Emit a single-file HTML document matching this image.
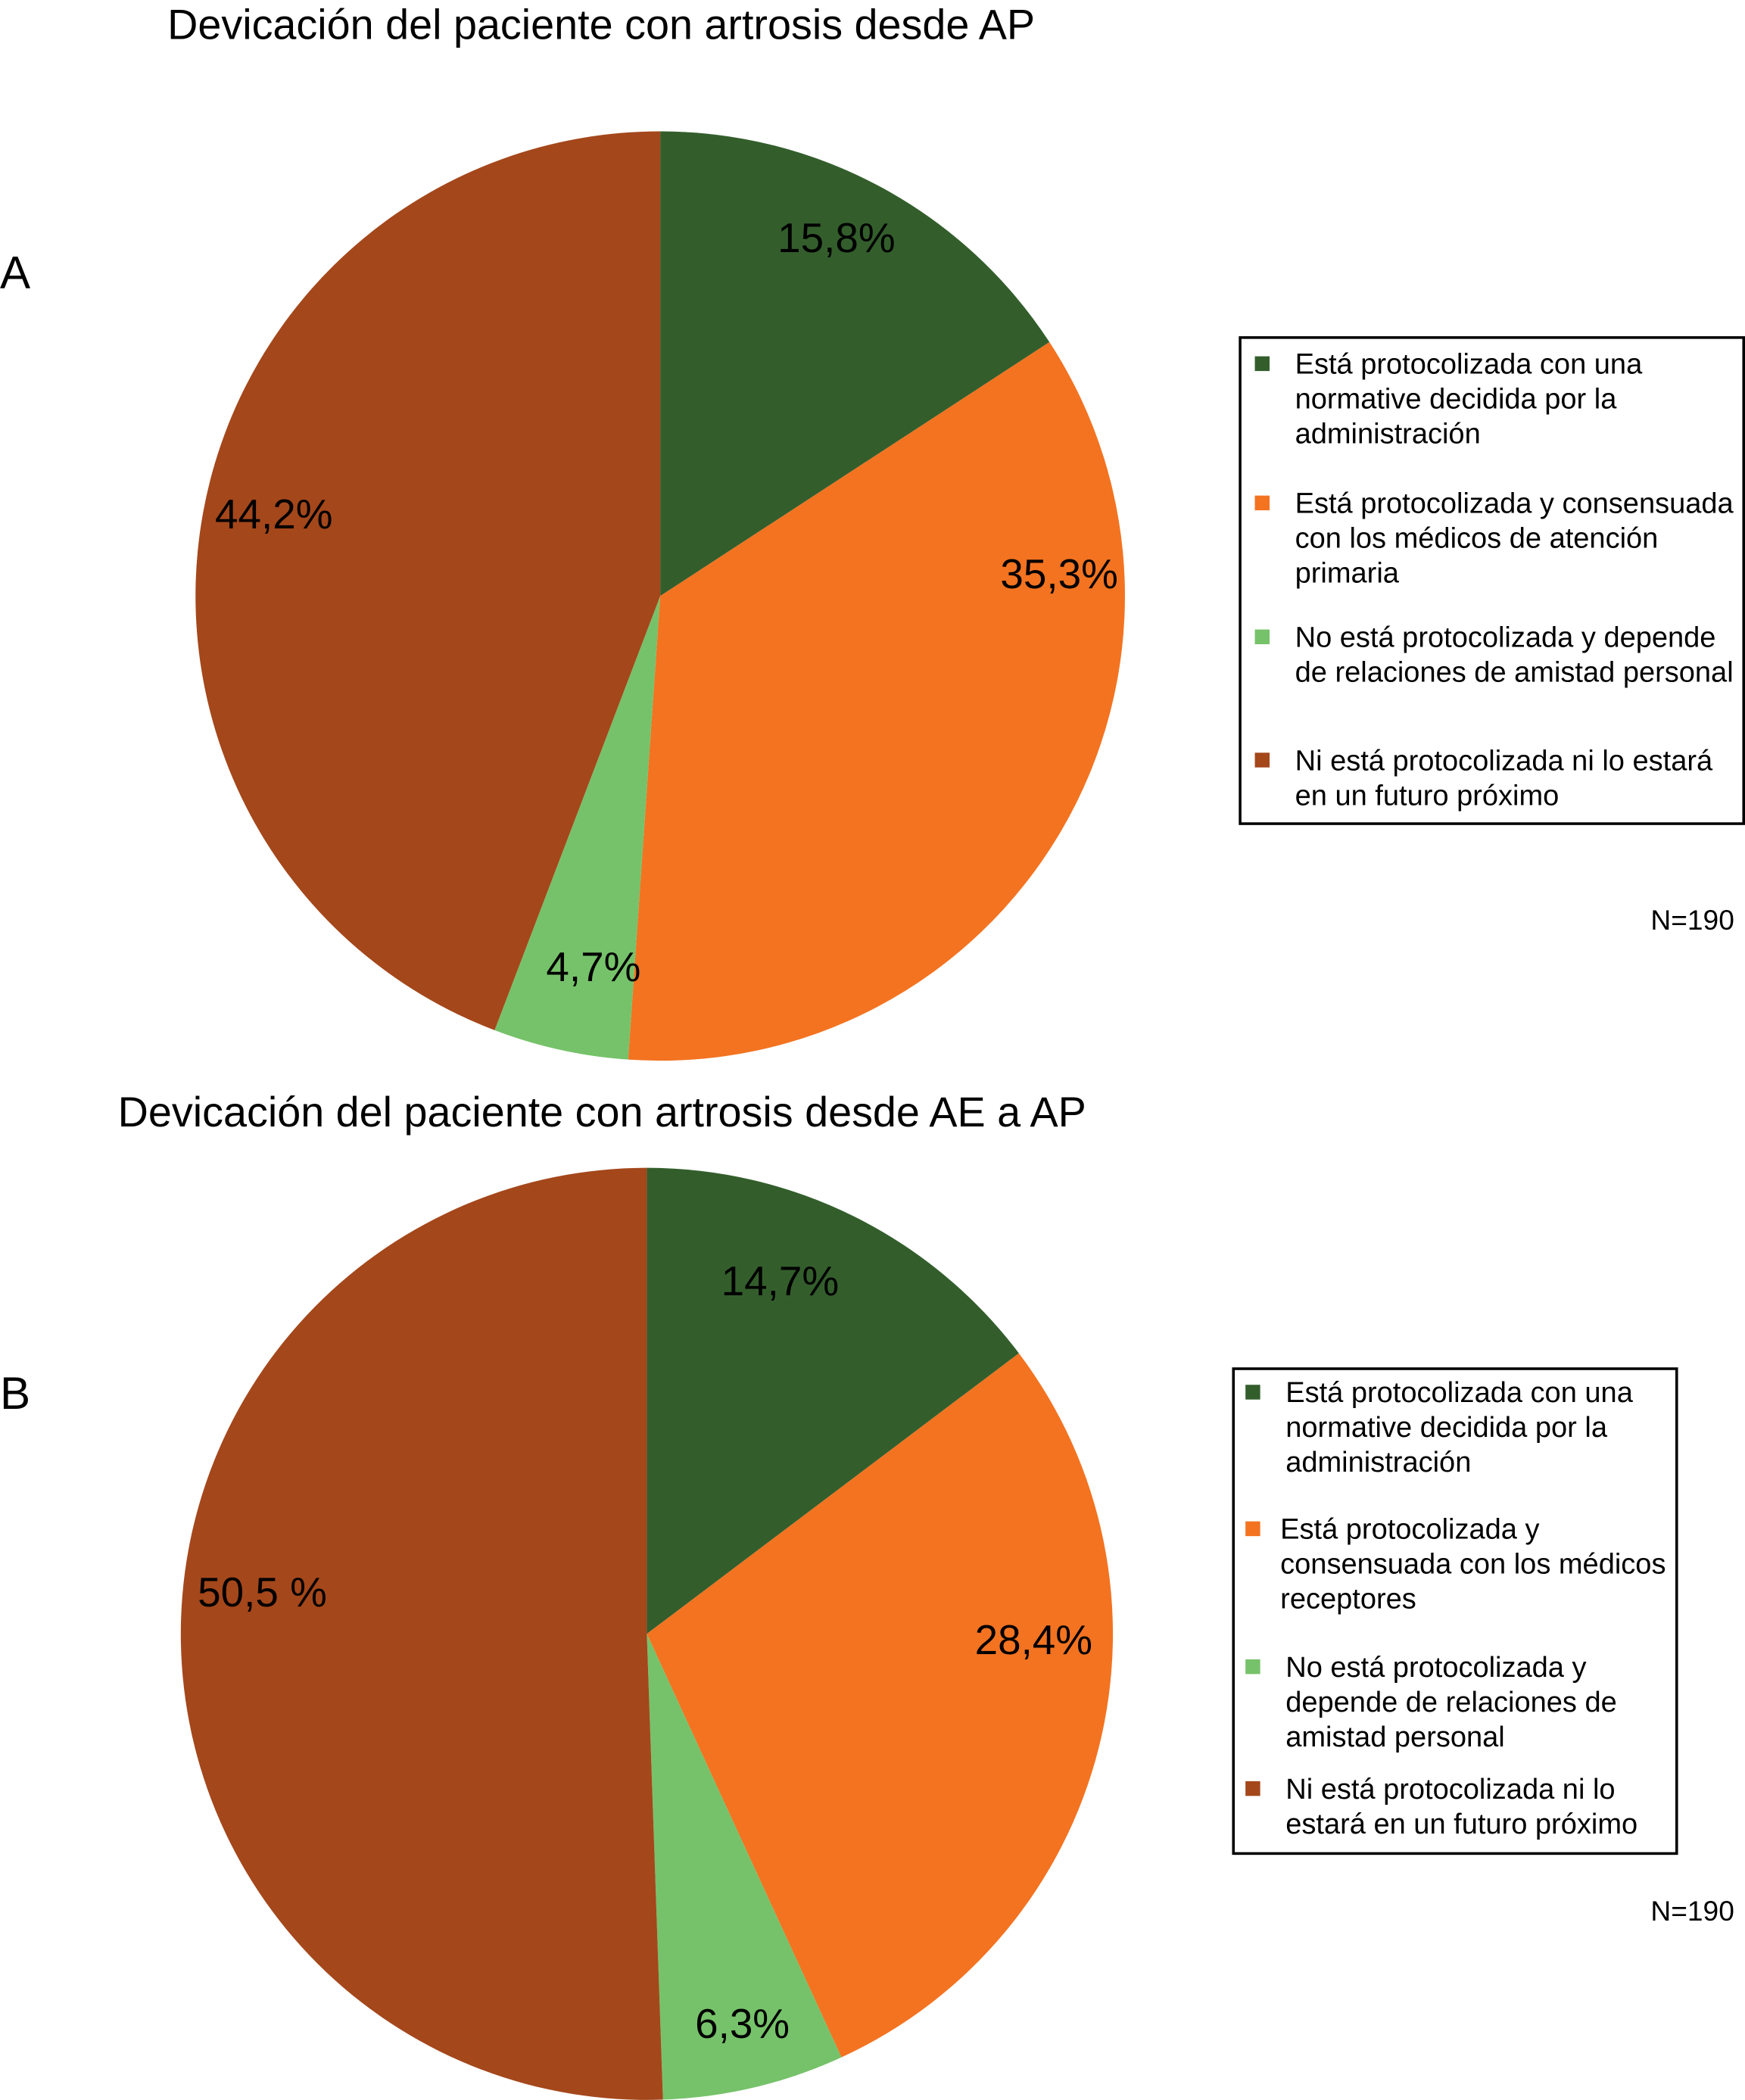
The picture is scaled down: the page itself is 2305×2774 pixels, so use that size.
<!DOCTYPE html>
<html><head><meta charset="utf-8"><style>
html,body{margin:0;padding:0;background:#fff}
svg{display:block}
text{font-family:"Liberation Sans",Arial,sans-serif;fill:#000}
</style></head><body>
<svg id="chart" width="2305" height="2774" viewBox="0 0 1303 1568" xmlns="http://www.w3.org/2000/svg">
<text x="125" y="29" font-size="31.5">Devicación del paciente con artrosis desde AP</text>
<text x="0" y="215" font-size="34">A</text>
<g id="pieA"></g>
<g id="legA"></g>
<text x="1295" y="694" font-size="21" text-anchor="end">N=190</text>

<text x="88" y="841" font-size="31.5">Devicación del paciente con artrosis desde AE a AP</text>
<text x="0" y="1052" font-size="34">B</text>
<g id="pieB"></g>
<g id="legB"></g>
<text x="1295" y="1434" font-size="21" text-anchor="end">N=190</text>
</svg>
<script>
const categories = ["protocolizada-normativa","protocolizada-consensuada","no-protocolizada-amistad","ni-protocolizada"];
const valuesA = [15.8, 35.3, 4.7, 44.2];
const valuesB = [14.7, 28.4, 6.3, 50.5];
const printedA = ["15,8%","35,3%","4,7%","44,2%"];
const printedB = ["14,7%","28,4%","6,3%","50,5 %"];
const colors = ["#335E2C","#F37321","#76C26A","#A4471B"];
const legendA = [["Está protocolizada con una","normative decidida por la","administración"],["Está protocolizada y consensuada","con los médicos de atención","primaria"],["No está protocolizada y depende","de relaciones de amistad personal"],["Ni está protocolizada ni lo estará","en un futuro próximo"]];
const legendB = [["Está protocolizada con una","normative decidida por la","administración"],["Está protocolizada y","consensuada con los médicos","receptores"],["No está protocolizada y","depende de relaciones de","amistad personal"],["Ni está protocolizada ni lo","estará en un futuro próximo"]];
const NS="http://www.w3.org/2000/svg";
function mk(tag,attrs,parent){const e=document.createElementNS(NS,tag);for(const k in attrs)e.setAttribute(k,attrs[k]);parent.appendChild(e);return e;}
function drawPie(g,vals,labels,cx,cy,r,lr,lf){
  const tot=vals.reduce((a,b)=>a+b,0);let a0=0;
  vals.forEach((v,i)=>{
    const a1=a0+v/tot*2*Math.PI;
    const x0=cx+r*Math.sin(a0),y0=cy-r*Math.cos(a0),x1=cx+r*Math.sin(a1),y1=cy-r*Math.cos(a1);
    const p=mk('path',{d:`M${cx},${cy}L${x0},${y0}A${r},${r} 0 ${a1-a0>Math.PI?1:0} 1 ${x1},${y1}Z`,fill:colors[i]},g);
    
    
    const am=a0+(a1-a0)*lf[i], rr=lr[i]*r;
    const t=mk('text',{x:cx+rr*Math.sin(am),y:cy-rr*Math.cos(am)+11,'font-size':31,'text-anchor':'middle'},g);
    t.textContent=labels[i];
    
    
    a0=a1;
  });
}
function drawLegend(g,items,x0,y0,w,h,sqx,txs,ys){
  mk('rect',{x:x0,y:y0,width:w,height:h,fill:'#fff',stroke:'#000','stroke-width':2},g);
  items.forEach((lines,i)=>{
    const s=mk('rect',{x:sqx,y:ys[i]-13,width:11,height:11,fill:colors[i]},g);
    
    
    lines.forEach((ln,j)=>{
      const t=mk('text',{x:txs[i],y:ys[i]+j*26,'font-size':21.5},g);
      t.textContent=ln;
      
      
    });
  });
}
drawPie(document.getElementById('pieA'),valuesA,printedA,493,445,347,[0.86,0.86,0.81,0.85],[0.46,0.235,0.37,0.51]);
drawPie(document.getElementById('pieB'),valuesB,printedB,483,1220,348,[0.81,0.83,0.86,0.83],[0.39,0.37,0.48,0.54]);
drawLegend(document.getElementById('legA'),legendA,926,252,376,363,937,[967,967,967,967],[279,383,483,575]);
drawLegend(document.getElementById('legB'),legendB,921,1022,331,362,930,[960,956,960,960],[1047,1149,1252,1343]);
</script>
</body></html>
